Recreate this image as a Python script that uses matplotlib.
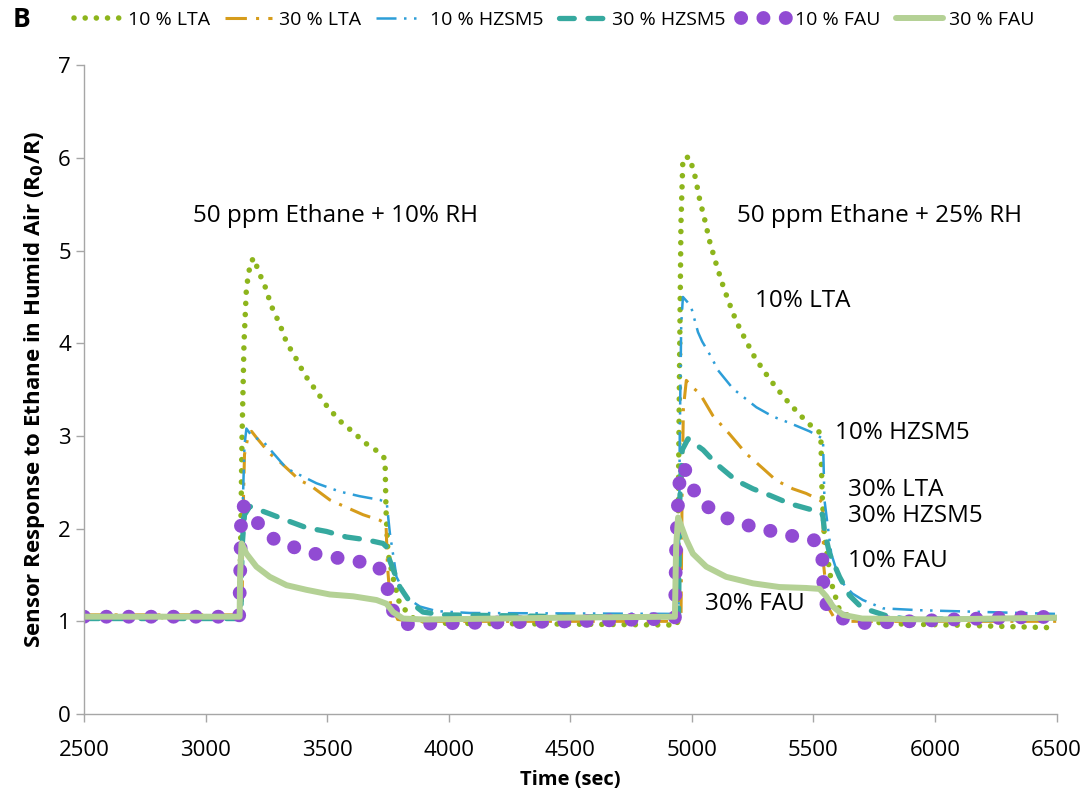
import matplotlib
matplotlib.use("Agg")
import matplotlib.pyplot as plt

plt.rcParams['font.family'] = ['Open Sans', 'DejaVu Sans']

# 10 % LTA
t_lta10 = [2500, 3140, 3145, 3150, 3158, 3168, 3185, 3200, 3214, 3245, 3271, 3306, 3333, 3371,
           3408, 3454, 3497, 3549, 3603, 3659, 3721, 3738, 3742, 3750, 3770, 3799, 3826, 3860,
           3950, 4500, 4940, 4945, 4950, 4955, 4963, 4991, 5001, 5014, 5032, 5053, 5073, 5097,
           5123, 5151, 5182, 5218, 5258, 5299, 5344, 5388, 5443, 5498, 5530, 5535, 5545, 5575,
           5607, 5662, 5799, 6072, 6500]
v_lta10 = [1.05, 1.05, 2.0, 3.0, 4.0, 4.6, 4.88, 4.92, 4.80, 4.61, 4.40, 4.20, 4.01, 3.84,
           3.66, 3.49, 3.33, 3.17, 3.05, 2.92, 2.81, 2.75, 2.2, 1.74, 1.48, 1.18, 1.11, 1.02,
           0.98, 0.97, 0.96, 2.5, 4.0, 5.3, 6.0, 6.01, 5.91, 5.79, 5.55, 5.33, 5.10, 4.88,
           4.66, 4.45, 4.24, 4.05, 3.85, 3.69, 3.53, 3.39, 3.23, 3.09, 3.03, 2.4, 1.9, 1.4,
           1.12, 1.03, 0.975, 0.96, 0.93]

# 30 % LTA
t_lta30 = [2500, 3150, 3153, 3160, 3175, 3189, 3210, 3264, 3306, 3388, 3429, 3511, 3579, 3648,
           3717, 3742, 3748, 3760, 3790, 3850, 4500, 4955, 4960, 4965, 4977, 5000, 5032, 5086,
           5155, 5223, 5292, 5347, 5415, 5470, 5525, 5538, 5542, 5560, 5594, 6500]
v_lta30 = [1.07, 1.07, 2.0, 2.8, 3.0, 3.05, 2.98, 2.81, 2.72, 2.52, 2.47, 2.31, 2.23, 2.15,
           2.09, 2.05, 1.6, 1.2, 1.02, 1.0, 1.0, 1.0, 2.5, 3.3, 3.60, 3.53, 3.46, 3.22,
           3.02, 2.81, 2.65, 2.52, 2.43, 2.38, 2.31, 2.28, 1.6, 1.15, 1.0, 1.0]

# 10 % HZSM5
t_hz10 = [2500, 3145, 3150, 3160, 3168, 3190, 3237, 3333, 3456, 3552, 3634, 3717, 3745, 3752,
          3758, 3785, 3830, 3881, 3950, 4087, 4945, 4950, 4956, 4963, 4980, 4997, 5025, 5042,
          5080, 5107, 5169, 5265, 5333, 5402, 5484, 5539, 5545, 5573, 5607, 5660, 5703, 5786,
          5936, 6210, 6500]
v_hz10 = [1.04, 1.04, 2.0, 2.9, 3.08, 3.0, 2.94, 2.65, 2.49, 2.40, 2.35, 2.31, 2.28, 2.1,
          1.95, 1.48, 1.25, 1.16, 1.11, 1.09, 1.08, 3.0, 4.2, 4.50, 4.45, 4.39, 4.12, 4.02,
          3.85, 3.71, 3.51, 3.31, 3.21, 3.14, 3.05, 2.97, 2.31, 1.73, 1.45, 1.30, 1.23, 1.14,
          1.12, 1.10, 1.08]

# 30 % HZSM5
t_hz30 = [2500, 3145, 3150, 3160, 3182, 3264, 3333, 3415, 3497, 3579, 3661, 3730, 3745, 3757,
          3799, 3840, 3894, 3976, 4500, 4945, 4950, 4960, 4984, 5046, 5100, 5182, 5251, 5320,
          5402, 5470, 5525, 5538, 5545, 5566, 5607, 5648, 5690, 5730, 5800, 5867, 6200, 6500]
v_hz30 = [1.03, 1.03, 1.8, 2.15, 2.24, 2.16, 2.09, 2.01, 1.97, 1.91, 1.88, 1.84, 1.80, 1.66,
          1.37, 1.21, 1.10, 1.07, 1.05, 1.05, 2.3, 2.85, 2.97, 2.85, 2.70, 2.52, 2.43, 2.36,
          2.27, 2.22, 2.18, 2.15, 1.98, 1.73, 1.48, 1.28, 1.17, 1.12, 1.06, 1.03, 1.02, 1.04]

# 10 % FAU
t_fau10 = [2500, 3138, 3143, 3146, 3150, 3182, 3230, 3285, 3363, 3447, 3532, 3614, 3700, 3730,
           3745, 3758, 3785, 3830, 4000, 4500, 4930, 4935, 4945, 4956, 4970, 5000, 5032, 5100,
           5175, 5251, 5333, 5415, 5500, 5530, 5536, 5539, 5552, 5607, 5689, 5800, 6072, 6300,
           6500]
v_fau10 = [1.05, 1.05, 1.6, 2.1, 2.25, 2.20, 2.00, 1.88, 1.80, 1.73, 1.69, 1.65, 1.62, 1.52,
           1.40, 1.21, 1.01, 0.97, 0.98, 1.0, 1.03, 1.8, 2.4, 2.67, 2.65, 2.45, 2.31, 2.16,
           2.08, 2.02, 1.97, 1.92, 1.88, 1.80, 1.70, 1.45, 1.19, 1.04, 0.98, 0.99, 1.02, 1.04,
           1.05]

# 30 % FAU
t_fau30 = [2500, 3140, 3142, 3148, 3168, 3209, 3264, 3333, 3415, 3511, 3607, 3703, 3744, 3771,
           3812, 3900, 4500, 4930, 4935, 4943, 4977, 5004, 5059, 5141, 5251, 5360, 5470, 5525,
           5552, 5580, 5621, 5700, 6000, 6500]
v_fau30 = [1.05, 1.05, 1.5, 1.84, 1.73, 1.59, 1.48, 1.39, 1.34, 1.29, 1.27, 1.23, 1.19, 1.10,
           1.03, 1.02, 1.04, 1.05, 1.8, 2.12, 1.88, 1.73, 1.59, 1.48, 1.41, 1.37, 1.36, 1.35,
           1.27, 1.16, 1.07, 1.03, 1.02, 1.04]

fig = plt.figure(figsize=(10.88, 7.96), dpi=100)
ax = fig.add_axes([0.0772, 0.103, 0.894, 0.815])

ax.plot(t_lta10, v_lta10, color='#8db51c', lw=4.0, linestyle=(0, (0.01, 2.0)),
        dash_capstyle='round', label='10 % LTA')
ax.plot(t_lta30, v_lta30, color='#d69c1b', lw=2.2, linestyle=(0, (7, 3, 1, 3)),
        label='30 % LTA')
ax.plot(t_hz10, v_hz10, color='#2d9ed8', lw=1.8, linestyle=(0, (8, 3, 1, 3, 1, 3)),
        label='10 % HZSM5')
ax.plot(t_hz30, v_hz30, color='#36a99f', lw=3.8, linestyle=(0, (2.8, 2.6)),
        dash_capstyle='round', label='30 % HZSM5')
ax.plot(t_fau10, v_fau10, color='#914bd3', lw=10, linestyle=(0, (0.01, 1.6)),
        dash_capstyle='round', label='10 % FAU')
ax.plot(t_fau30, v_fau30, color='#b4d195', lw=4.3, solid_capstyle='round',
        label='30 % FAU')

ax.set_xlim(2500, 6500)
ax.set_ylim(0, 7)
ax.set_xticks(range(2500, 6501, 500))
ax.set_yticks(range(0, 8))
for s in ['top', 'right']:
    ax.spines[s].set_visible(False)
for s in ['left', 'bottom']:
    ax.spines[s].set_color('#a6a6a6')
    ax.spines[s].set_linewidth(1.0)
ax.tick_params(axis='both', colors='#a6a6a6', labelcolor='black', labelsize=16,
               length=6, width=1.0, direction='out')
ax.tick_params(axis='x', pad=13)

ax.set_xlabel('Time (sec)', fontsize=14.5, fontweight='bold', labelpad=6)
ax.set_ylabel('Sensor Response to Ethane in Humid Air (R$_\\mathbf{0}$/R)', fontsize=16,
              fontweight='bold', labelpad=8)

tk = dict(fontsize=17.5, color='black', va='center')
ax.text(3536, 5.37, '50 ppm Ethane + 10% RH', ha='center', **tk)
ax.text(5772, 5.37, '50 ppm Ethane + 25% RH', ha='center', **tk)
ax.text(5258, 4.46, '10% LTA', ha='left', **tk)
ax.text(5587, 3.03, '10% HZSM5', ha='left', **tk)
ax.text(5640, 2.42, '30% LTA', ha='left', **tk)
ax.text(5640, 2.14, '30% HZSM5', ha='left', **tk)
ax.text(5640, 1.65, '10% FAU', ha='left', **tk)
ax.text(5052, 1.19, '30% FAU', ha='left', **tk)

fig.text(0.012, 0.975, 'B', fontsize=19, fontweight='bold', va='center')
fig.legend(loc='center left', bbox_to_anchor=(0.052, 0.975), ncol=6, frameon=False,
           fontsize=14, handlelength=2.4, handletextpad=0.35, columnspacing=0.8)

fig.savefig('out.png', dpi=100)
